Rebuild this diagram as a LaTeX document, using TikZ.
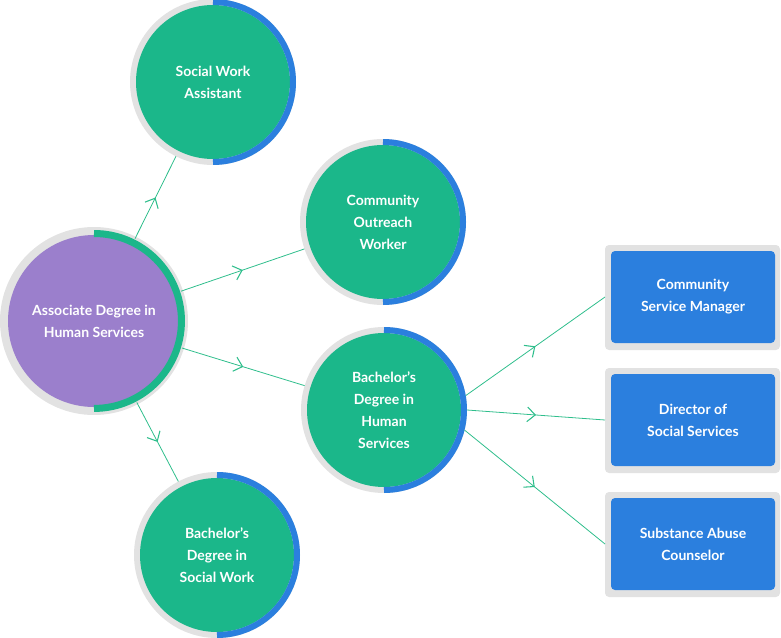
\documentclass[tikz,border=0pt]{standalone}
\usepackage{fontspec}
\setmainfont{Lato}
\usetikzlibrary{decorations.markings,arrows.meta}
\definecolor{cg}{HTML}{1BB78A}
\definecolor{cb}{HTML}{2B7FDE}
\definecolor{cp}{HTML}{9B7FCC}
\definecolor{cgr}{HTML}{E2E2E2}
\definecolor{cl}{HTML}{2FBE8C}
\tikzset{
  x=0.75pt,y=-0.75pt,
  circ/.style={circle,fill=cg,minimum size=115.5pt,inner sep=0pt,outer sep=4.5pt,text=white,font=\bfseries\fontsize{10.5}{16.5}\selectfont,align=center},
  box/.style={rounded corners=3pt,fill=cb,minimum width=123pt,minimum height=69pt,text=white,font=\bfseries\fontsize{10.5}{16.5}\selectfont,align=center,outer sep=4.5pt},
  conn/.style={cl,line width=0.6pt,postaction={decorate},decoration={markings,mark=at position 0.5 with {\arrow{Straight Barb[length=6pt,width=11pt,line width=0.8pt]}}}}
}
\newcommand\ringc[4]{% pos, name, ringcolor, text
  \fill[cgr] #1 circle[radius=62.25pt];
  \node[circ] (#2) at #1 {#4};
  \draw[#3,line width=4.5pt] ($#1+(0,-80)$) arc[start angle=90,end angle=-90,radius=60pt];
}
\usetikzlibrary{calc}
\begin{document}
\begin{tikzpicture}
\useasboundingbox (0,0) rectangle (781,638);
\ringc{(213,82)}{swa}{cb}{Social Work\\Assistant}
\ringc{(383,222)}{cow}{cb}{Community\\Outreach\\Worker}
\ringc{(384,410)}{bhs}{cb}{Bachelor's\\Degree in\\Human\\Services}
\ringc{(217,555)}{bsw}{cb}{Bachelor's\\Degree in\\Social Work}
% associate
\fill[cgr] (94,321) circle[radius=70.5pt];
\node[circ,fill=cp,minimum size=129pt] (asd) at (94,321) {Associate Degree in\\Human Services};
\draw[cg,line width=5.25pt] (94,233.5) arc[start angle=90,end angle=-90,radius=65.6pt];
% boxes
\foreach \n/\y/\t in {csm/297/{Community\\Service Manager},dir/420/{Director of\\Social Services},sac/544/{Substance Abuse\\Counselor}}{
  \fill[cgr,rounded corners=3pt] (605,\y-52) rectangle (780,\y+53);
  \node[box] (\n) at (693,\y) {\t};
}
\draw[conn] (asd) -- (swa);
\draw[conn] (asd) -- (cow);
\draw[conn] (asd) -- (bhs);
\draw[conn] (asd) -- (bsw);
\draw[conn] (bhs.10) -- (csm.west);
\draw[conn] (bhs.east) -- (dir.west);
\draw[conn] (bhs.-14) -- (sac.west);
\end{tikzpicture}
\end{document}
